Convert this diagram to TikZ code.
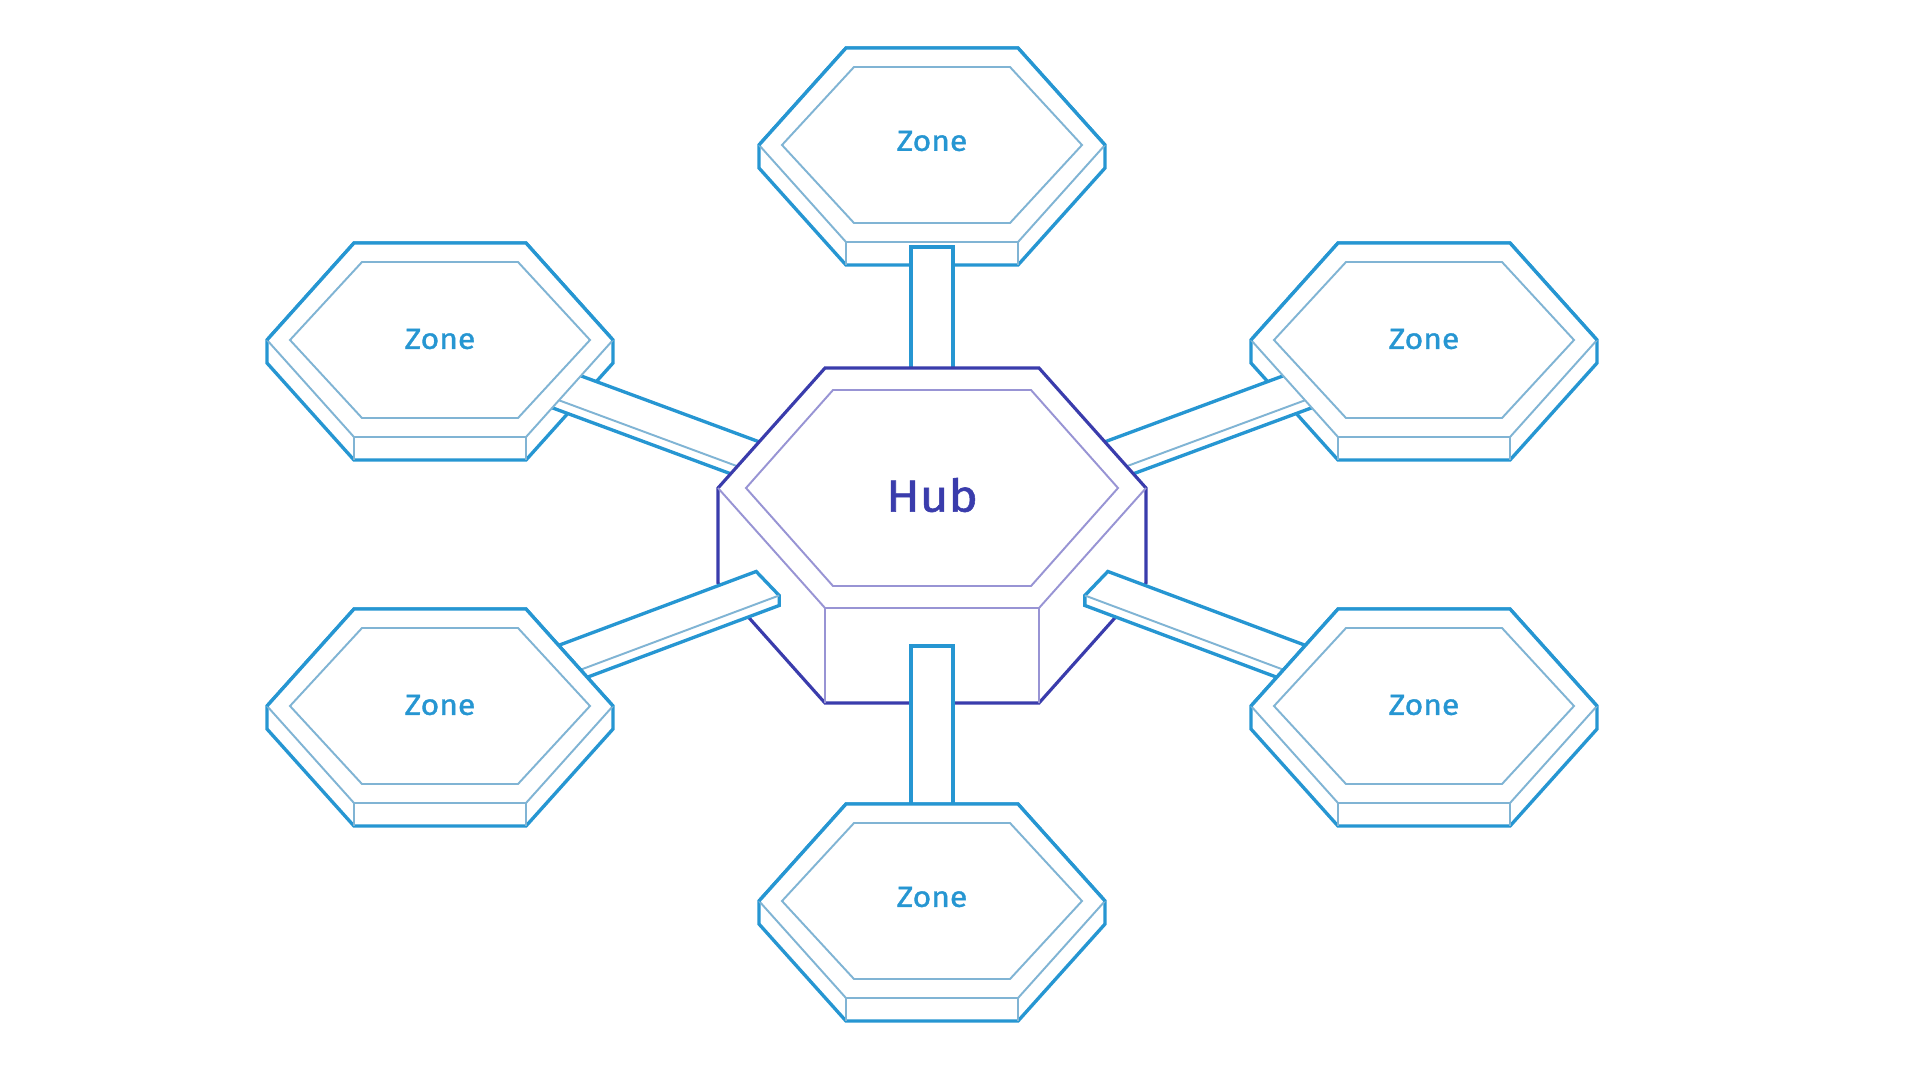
\documentclass[tikz,border=0pt]{standalone}
\usepackage{fontspec}
\setmainfont{Fira Sans}
\newfontfamily\labelfont{Fira Sans}[FakeStretch=1.1, FakeBold=1.2]
\usetikzlibrary{calc}

\definecolor{zoneblue}{RGB}{38,150,210}
\definecolor{zonepale}{RGB}{128,180,212}
\definecolor{hubblue}{RGB}{58,60,172}
\definecolor{hubpale}{RGB}{152,148,212}

% hexagon: half width, half top width, half height
\newcommand{\hexa}[3]{(-#1,0) -- (-#2,-#3) -- (#2,-#3) -- (#1,0) -- (#2,#3) -- (-#2,#3) -- cycle}

% zone slab, body and top face
\newcommand{\zonebody}[1]{%
  \begin{scope}[shift={(#1)}]
    \filldraw[zoneline, fill=white] (-173,0) -- (-86,-97) -- (86,-97) -- (173,0) -- (173,23) -- (86,120) -- (-86,120) -- (-173,23) -- cycle;
    \draw[zonethin] (-86,97) -- (-86,120) (86,97) -- (86,120);
  \end{scope}}
\newcommand{\zoneface}[1]{%
  \begin{scope}[shift={(#1)}]
    \fill[white] \hexa{173}{86}{97};
    \draw[zonethin] (-173,0) -- (-86,97) -- (86,97) -- (173,0);
    \draw[zoneline] (-173,0) -- (-86,-97) -- (86,-97) -- (173,0);
    \draw[zonethin] \hexa{150}{78}{78};
  \end{scope}}

% bar from #1 to #2, half width vector #3
\newcommand{\linkbar}[3]{%
  \filldraw[zoneline, fill=white] ($(#1)-(#3)$) -- ($(#2)-(#3)$) -- ($(#2)+(#3)$) -- ($(#2)+(#3)+(0,10)$) -- ($(#1)+(#3)+(0,10)$) -- ($(#1)+(#3)$) -- cycle;
  \draw[zonethin] ($(#1)+(#3)$) -- ($(#2)+(#3)$);}

\begin{document}
\begin{tikzpicture}[x=0.02cm, y=-0.02cm,
    zoneline/.style={draw=zoneblue, line width=1.9pt},
    zonethin/.style={draw=zonepale, line width=1.1pt},
    hubline/.style={draw=hubblue, line width=1.8pt},
    hubthin/.style={draw=hubpale, line width=1.1pt},
    zonetext/.style={text=zoneblue, font=\labelfont\fontsize{16.5}{20}\selectfont, inner sep=0pt},
    hubtext/.style={text=hubblue, font=\labelfont\fontsize{25.6}{30}\selectfont, inner sep=0pt}]
    \useasboundingbox (0,0) rectangle (1920,1080);

    % Centres {zTop, zUL, zUR, zLL, zLR, zBot, hub}
    \coordinate (zTop) at (932,145);
    \coordinate (zUL)  at (440,340);
    \coordinate (zUR)  at (1424,340);
    \coordinate (zLL)  at (440,706);
    \coordinate (zLR)  at (1424,706);
    \coordinate (zBot) at (932,901);
    \coordinate (hub)  at (932,488);
    \coordinate (hubc) at (932,522);

    % Back zones and their bars
    \zonebody{zTop}
    \zonebody{zUL}
    \zonebody{zUR}
    \linkbar{zUL}{hubc}{-11.5,12}
    \linkbar{zUR}{hubc}{11.5,12}
    \zoneface{zTop}
    \zoneface{zUL}
    \zoneface{zUR}
    \filldraw[zoneline, fill=white] ($(zTop)+(-21,102)$) rectangle ($(hub)+(21,0)$);

    % Hub
    \begin{scope}[shift={(hub)}]
        \filldraw[hubline, fill=white] (-214,0) -- (-107,-120) -- (107,-120) -- (214,0) -- (214,95) -- (107,215) -- (-107,215) -- (-214,95) -- cycle;
        \draw[hubthin] (-214,0) -- (-107,120) -- (107,120) -- (214,0) (-107,120) -- (-107,215) (107,120) -- (107,215);
        \draw[hubthin] \hexa{186}{99}{98};
    \end{scope}

    % Front bars and zones
    \coordinate (eLL)  at ($(hubc)!0.334!(zLL)$);
    \coordinate (eLR)  at ($(hubc)!0.334!(zLR)$);
    \coordinate (eBot) at (932,646);
    \linkbar{eLL}{zLL}{11.5,12}
    \linkbar{eLR}{zLR}{-11.5,12}
    \filldraw[zoneline, fill=white] ($(eBot)+(-21,0)$) rectangle ($(zBot)+(21,0)$);
    \zonebody{zLL}  \zoneface{zLL}
    \zonebody{zLR}  \zoneface{zLR}
    \zonebody{zBot} \zoneface{zBot}

    % Labels
    \node [zonetext] (lTop) at ($(zTop)+(0,-4)$) {Zone};
    \node [zonetext] (lUL)  at ($(zUL)+(0,-1)$)  {Zone};
    \node [zonetext] (lUR)  at ($(zUR)+(0,-1)$)  {Zone};
    \node [zonetext] (lLL)  at ($(zLL)+(0,-1)$)  {Zone};
    \node [zonetext] (lLR)  at ($(zLR)+(0,-1)$)  {Zone};
    \node [zonetext] (lBot) at ($(zBot)+(0,-4)$) {Zone};
    \node [hubtext]  (lHub) at ($(hub)+(0,7)$)   {Hub};

\end{tikzpicture}
\end{document}
